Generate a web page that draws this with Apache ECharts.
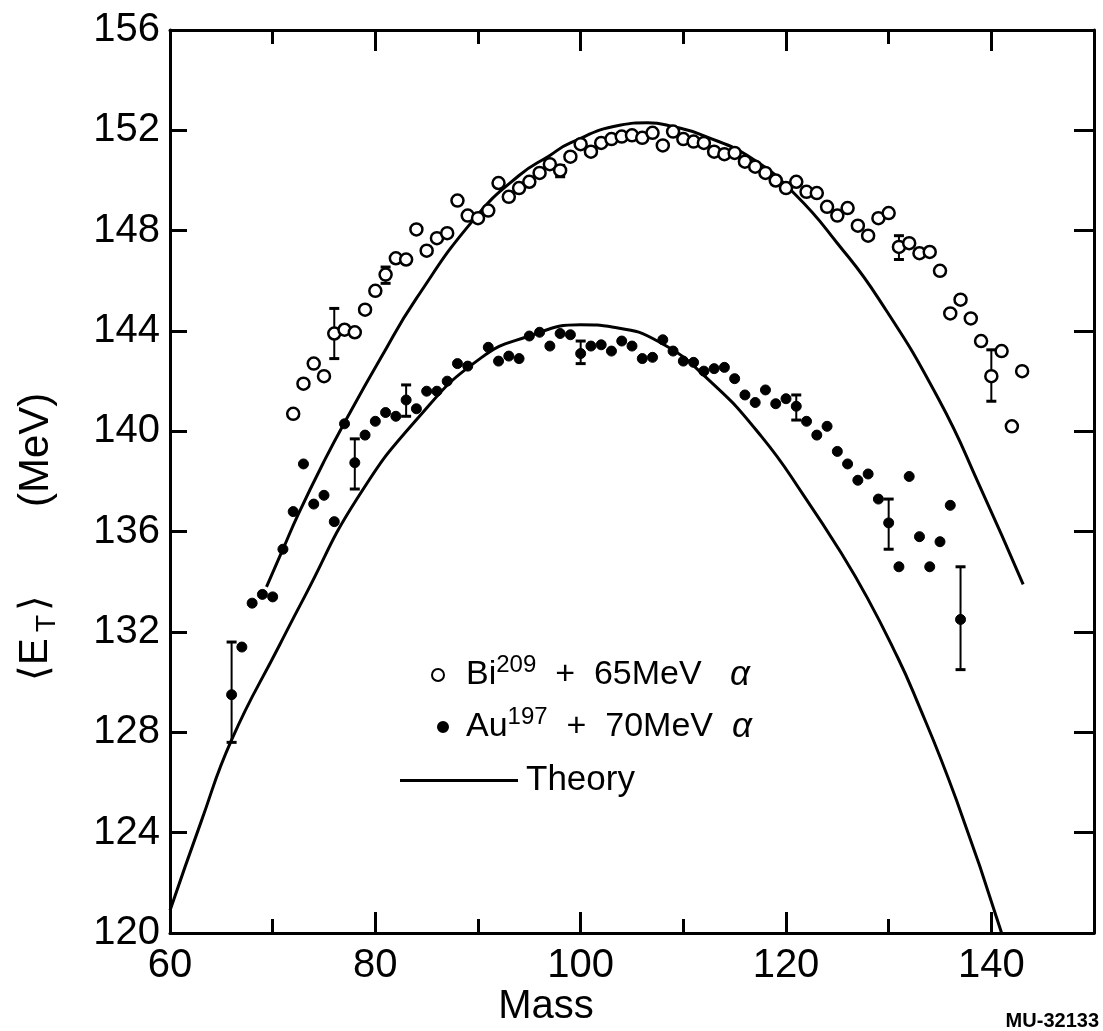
<!DOCTYPE html>
<html><head><meta charset="utf-8">
<script src="https://cdn.jsdelivr.net/npm/echarts@6/dist/echarts.min.js"></script>
<style>html,body{margin:0;padding:0;background:#fff}#c{width:1103px;height:1031px}</style>
</head><body><div id="c"></div>
<script>
// ---- data ----
const biMass = [72,73,74,75,76,77,78,79,80,81,82,83,84,85,86,87,88,89,90,91,92,93,94,95,96,97,98,99,100,101,102,103,104,105,106,107,108,109,110,111,112,113,114,115,116,117,118,119,120,121,122,123,124,125,126,127,128,129,130,131,132,133,134,135,136,137,138,139,140,141,142,143];
const biE = [140.7,141.9,142.7,142.2,143.9,144.05,143.95,144.85,145.6,146.25,146.9,146.85,148.05,147.2,147.7,147.9,149.2,148.6,148.5,148.8,149.9,149.35,149.7,149.95,150.3,150.65,150.4,150.95,151.45,151.15,151.5,151.65,151.75,151.8,151.7,151.9,151.4,151.95,151.65,151.55,151.5,151.15,151.05,151.1,150.75,150.55,150.3,150.0,149.7,149.95,149.55,149.5,148.95,148.6,148.9,148.2,147.8,148.5,148.7,147.35,147.5,147.1,147.15,146.4,144.7,145.25,144.5,143.6,142.2,143.2,140.2,142.4];

const auMass = [66,67,68,69,70,71,72,73,74,75,76,77,78,79,80,81,82,83,84,85,86,87,88,89,91,92,93,94,95,96,97,98,99,100,101,102,103,104,105,106,107,108,109,110,111,112,113,114,115,116,117,118,119,120,121,122,123,124,125,126,127,128,129,130,131,132,133,134,135,136,137];
const auE = [129.5,131.4,133.15,133.5,133.4,135.3,136.8,138.7,137.1,137.45,136.4,140.3,138.75,139.85,140.4,140.75,140.6,141.25,140.9,141.6,141.6,142.0,142.7,142.6,143.35,142.8,143.0,142.9,143.8,143.95,143.4,143.9,143.85,143.1,143.4,143.45,143.2,143.6,143.4,142.9,142.95,143.65,143.2,142.8,142.75,142.4,142.5,142.55,142.1,141.45,141.15,141.65,141.1,141.3,141.0,140.4,139.85,140.2,139.2,138.7,138.05,138.3,137.3,136.35,134.6,138.2,135.8,134.6,135.6,137.05,132.5];

// error bars: mass, low, high
const biErrMass = [76, 81, 98, 131, 140];
const biErrLow  = [142.9, 145.9, 150.15, 146.85, 141.2];
const biErrHigh = [144.9, 146.55, 150.6, 147.8, 143.25];
const auErrMass = [66, 78, 83, 100, 121, 130, 137];
const auErrLow  = [127.6, 137.7, 140.6, 142.7, 140.45, 135.3, 130.5];
const auErrHigh = [131.6, 139.7, 141.85, 143.6, 141.45, 137.3, 134.6];

// theory curves
const thUpMass = [69.4,71.0,72.5,75.0,77.2,80.5,84.0,89.7,94.0,97.0,99.0,103.8,106.5,109.0,111.9,116.8,121.0,125.0,129.0,134.85,139.0,143.1];
const thUpE    = [133.8,135.3,136.7,138.8,140.5,142.9,145.3,148.5,150.2,151.0,151.5,152.2,152.3,152.15,151.8,150.85,149.4,147.5,145.3,141.3,137.7,133.9];
const thLoMass = [60.0,63.0,66.0,70.7,73.1,78.2,84.3,90.2,95.0,100.0,103.2,107.7,112.6,117.6,121.8,125.6,128.0,130.5,132.4,136.6,141.0];
const thLoE    = [120.9,124.4,127.7,131.5,133.4,137.3,140.6,142.9,143.8,144.25,144.15,143.55,142.0,139.8,137.4,135.0,133.3,131.3,129.6,125.3,120.0];

const xLabelValues = [60, 80, 100, 120, 140];
const xMin = 60, xMax = 150, yMin = 120, yMax = 156;

// ---- chart ----
const FONT = 'Liberation Sans, Arial, sans-serif';
const zip = (a, b) => a.map((v, i) => [v, b[i]]);
const errData = biErrMass.map((m, i) => [m, biErrLow[i], biErrHigh[i]])
  .concat(auErrMass.map((m, i) => [m, auErrLow[i], auErrHigh[i]]));

const chart = echarts.init(document.getElementById('c'), null, {renderer: 'canvas'});
const axisLine = {show: true, lineStyle: {color: '#000', width: 3}};
function xAx(pos, interval, len, labels) {
  return {
    type: 'value', position: pos, min: xMin, max: xMax, interval: interval,
    axisLine: labels !== null ? axisLine : {show: false},
    axisTick: {show: true, inside: true, length: len, lineStyle: {color: '#000', width: 3}},
    axisLabel: labels ? {
      show: true, margin: 13, color: '#000', fontSize: 40, fontFamily: FONT,
      formatter: v => (xLabelValues.indexOf(v) >= 0 ? String(v) : '')
    } : {show: false},
    splitLine: {show: false}
  };
}
const richLegend = {
  g1: {width: 17, height: 10},
  g2: {width: 13, height: 10},
  b: {fontSize: 34, lineHeight: 44, fontFamily: FONT, color: '#000'},
  s: {fontSize: 24, lineHeight: 24, verticalAlign: 'top', fontFamily: FONT, color: '#000'},
  i: {fontSize: 35, lineHeight: 44, fontStyle: 'italic', fontFamily: FONT, color: '#000'}
};
const option = {
  animation: false,
  backgroundColor: '#fff',
  grid: {left: 170, right: 9, top: 30, bottom: 98, containLabel: false, outerBoundsMode: 'none'},
  xAxis: [
    xAx('bottom', 10, 14, true),
    xAx('bottom', 20, 21, null),
    xAx('top', 10, 14, false),
    xAx('top', 20, 21, null)
  ],
  yAxis: [
    {type: 'value', position: 'left', min: yMin, max: yMax, interval: 4,
     axisLine: axisLine,
     axisTick: {show: true, inside: true, length: 17, lineStyle: {color: '#000', width: 3}},
     axisLabel: {show: true, margin: 10, color: '#000', fontSize: 40, fontFamily: FONT},
     splitLine: {show: false}},
    {type: 'value', position: 'right', min: yMin, max: yMax, interval: 4,
     axisLine: axisLine,
     axisTick: {show: true, inside: true, length: 20, lineStyle: {color: '#000', width: 3}},
     axisLabel: {show: false}, splitLine: {show: false}}
  ],
  legend: [
    {data: ['Bi209'], left: 426, top: 648, itemWidth: 12, itemHeight: 12, selectedMode: false,
     formatter: () => '{g1|}{b|Bi}{s|209}{b|  +  65MeV   }{i|α}',
     textStyle: {rich: richLegend}},
    {data: ['Au197'], left: 432, top: 700, itemWidth: 10, itemHeight: 10, selectedMode: false,
     formatter: () => '{g2|}{b|Au}{s|197}{b|  +  70MeV  }{i|α}',
     textStyle: {rich: richLegend}},
    {data: [{name: 'Theory', icon: 'rect'}], left: 395, top: 758, itemWidth: 118, itemHeight: 3, selectedMode: false,
     itemStyle: {color: '#000'},
     textStyle: {fontSize: 35, fontFamily: FONT, color: '#000', padding: [0, 0, 0, 3]}}
  ],
  series: [
    {name: 'Theory', type: 'line', data: zip(thUpMass, thUpE), smooth: 0.5,
     showSymbol: false, symbol: 'none', lineStyle: {color: '#000', width: 3}, itemStyle: {color: '#000'}, z: 2, silent: true},
    {name: 'Theory', type: 'line', data: zip(thLoMass, thLoE), smooth: 0.5,
     showSymbol: false, symbol: 'none', lineStyle: {color: '#000', width: 3}, itemStyle: {color: '#000'}, z: 2, silent: true},
    {type: 'custom', data: errData, z: 3, silent: true,
     encode: {x: 0, y: [1, 2]},
     renderItem: (params, api) => {
       const m = api.value(0), lo = api.value(1), hi = api.value(2);
       const p1 = api.coord([m, hi]), p2 = api.coord([m, lo]);
       const w = 5;
       const st = {stroke: '#000', lineWidth: 2};
       const cap = {stroke: '#000', lineWidth: 3};
       return {type: 'group', children: [
         {type: 'line', shape: {x1: p1[0], y1: p1[1], x2: p2[0], y2: p2[1]}, style: st},
         {type: 'line', shape: {x1: p1[0] - w, y1: p1[1], x2: p1[0] + w, y2: p1[1]}, style: cap},
         {type: 'line', shape: {x1: p2[0] - w, y1: p2[1], x2: p2[0] + w, y2: p2[1]}, style: cap}
       ]};
     }},
    {name: 'Bi209', type: 'scatter', data: zip(biMass, biE), symbol: 'circle', symbolSize: 12,
     itemStyle: {color: '#fff', borderColor: '#000', borderWidth: 2.5, opacity: 1}, z: 4, silent: true},
    {name: 'Au197', type: 'scatter', data: zip(auMass, auE), symbol: 'circle', symbolSize: 10,
     itemStyle: {color: '#000', borderColor: '#000', borderWidth: 1, opacity: 1}, z: 4, silent: true}
  ],
  graphic: [
    {type: 'group', x: 36, y: 681, rotation: Math.PI / 2, children: [
      {type: 'text', x: 0, y: 0, style: {text: '⟨E', fontSize: 40, fontFamily: FONT, fill: '#000', textAlign: 'left', textVerticalAlign: 'middle', align: 'left', verticalAlign: 'middle'}},
      {type: 'text', x: 49, y: 11, style: {text: 'T', fontSize: 28, fontFamily: FONT, fill: '#000', textAlign: 'left', textVerticalAlign: 'middle', align: 'left', verticalAlign: 'middle'}},
      {type: 'text', x: 70, y: 0, style: {text: '⟩', fontSize: 40, fontFamily: FONT, fill: '#000', textAlign: 'left', textVerticalAlign: 'middle', align: 'left', verticalAlign: 'middle'}},
      {type: 'text', x: 174, y: 0, style: {text: '(MeV)', fontSize: 42, fontFamily: FONT, fill: '#000', textAlign: 'left', textVerticalAlign: 'middle', align: 'left', verticalAlign: 'middle'}}
    ]},
    {type: 'text', x: 546, y: 1007, style: {text: 'Mass', fontSize: 40, fontFamily: FONT, fill: '#000', textAlign: 'center', textVerticalAlign: 'middle', align: 'center', verticalAlign: 'middle'}},
    {type: 'text', x: 1099, y: 1021, style: {text: 'MU-32133', fontSize: 20, fontWeight: 'bold', fontFamily: FONT, fill: '#000', textAlign: 'right', textVerticalAlign: 'middle', align: 'right', verticalAlign: 'middle'}}
  ]
};
chart.setOption(option);
</script>
</body></html>
